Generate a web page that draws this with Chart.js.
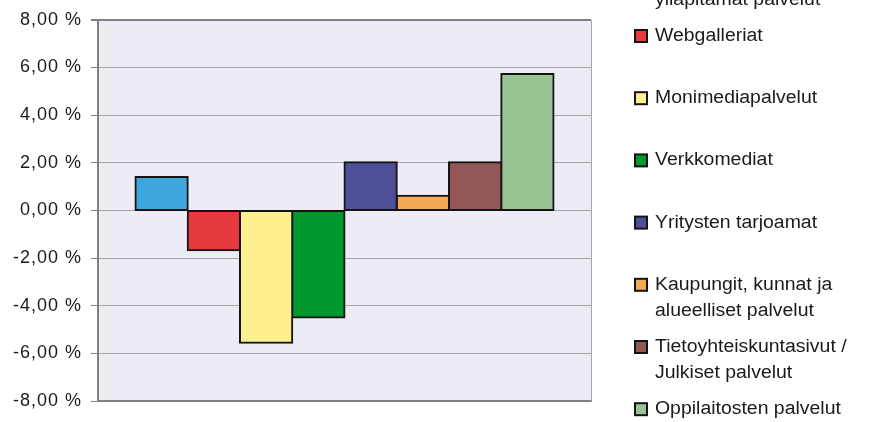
<!DOCTYPE html>
<html>
<head>
<meta charset="utf-8">
<script src="https://cdn.jsdelivr.net/npm/chart.js@4"></script>
<style>
  html, body { margin: 0; padding: 0; background: #fff; }
  #wrap { width: 887px; height: 422px; position: relative; }
</style>
</head>
<body>
<div id="wrap"><canvas id="chart"></canvas></div>
<script>
// data
var categories = [''];
var seriesNames = [
    'Yksityishenkilöiden\nylläpitämät palvelut',
    'Webgalleriat',
    'Monimediapalvelut',
    'Verkkomediat',
    'Yritysten tarjoamat',
    'Kaupungit, kunnat ja\nalueelliset palvelut',
    'Tietoyhteiskuntasivut /\nJulkiset palvelut',
    'Oppilaitosten palvelut'
];
var seriesValues = [1.40, -1.67, -5.55, -4.50, 2.02, 0.61, 2.02, 5.72];
var seriesColors = ['#3DA6DB', '#E5383F', '#FFF08F', '#00982F', '#4F4F99', '#F5A955', '#935757', '#99C293'];
var yTicks = [-8, -6, -4, -2, 0, 2, 4, 6, 8];

function fmt(v) {
    return v.toFixed(2).replace('.', ',') + ' %';
}

var datasets = seriesNames.map(function (name, i) {
    return {
        label: name.replace('\n', ' '),
        data: [seriesValues[i]],
        backgroundColor: seriesColors[i],
        borderColor: '#141414',
        borderWidth: 2,
        borderSkipped: false,
        inflateAmount: 1
    };
});

// plot background + right frame
var plotBg = {
    id: 'plotBg',
    beforeDraw: function (chart) {
        var a = chart.chartArea, c = chart.ctx;
        c.letterSpacing = '1px';
        c.save();
        c.fillStyle = '#EDECF5';
        c.fillRect(a.left, a.top, a.right - a.left, a.bottom - a.top);
        c.restore();
    },
    afterDatasetsDraw: function (chart) {
        var a = chart.chartArea, c = chart.ctx;
        c.save();
        c.strokeStyle = '#A6A6A6';
        c.lineWidth = 1;
        c.beginPath();
        c.moveTo(a.right + 0.5, a.top);
        c.lineTo(a.right + 0.5, a.bottom);
        c.stroke();
        c.restore();
    }
};

// legend on the right, excel style
var sideLegend = {
    id: 'sideLegend',
    afterDraw: function (chart) {
        var c = chart.ctx;
        c.save();
        c.letterSpacing = '0px';
        c.font = '18px "Liberation Sans", Arial, sans-serif';
        c.textBaseline = 'middle';
        var y0 = 36 - 62.2, step = 62.2, lh = 26;
        chart.data.datasets.forEach(function (ds, i) {
            var y = y0 + i * step;
            c.fillStyle = ds.backgroundColor;
            c.fillRect(635, y - 6, 12, 12);
            c.strokeStyle = '#141414';
            c.lineWidth = 2;
            c.strokeRect(635, y - 6, 12, 12);
            c.fillStyle = '#1a1a1a';
            seriesNames[i].split('\n').forEach(function (line, j) {
                c.save();
                c.translate(655, y + j * lh);
                c.scale(1.08, 1);
                c.fillText(line, 0, 0);
                c.restore();
            });
        });
        c.restore();
    }
};

var ctx = document.getElementById('chart');
var chart = new Chart(ctx, {
    type: 'bar',
    data: {
        labels: categories,
        datasets: datasets
    },
    options: {
        responsive: true,
        maintainAspectRatio: false,
        animation: false,
        datasets: {
            bar: { categoryPercentage: 0.848, barPercentage: 1.0 }
        },
        layout: { padding: { top: 18, right: 296, bottom: 0, left: 0 } },
        plugins: {
            legend: { display: false },
            tooltip: { enabled: false }
        },
        scales: {
            x: {
                ticks: { display: false },
                grid: { display: false, drawTicks: false },
                border: { display: true, color: '#808080', width: 2 },
                afterFit: function (s) { s.height = 21; }
            },
            y: {
                min: -8,
                max: 8,
                afterBuildTicks: function (s) {
                    s.ticks = yTicks.map(function (v) { return { value: v }; });
                },
                ticks: {
                    callback: function (v) { return fmt(v); },
                    color: '#1a1a1a',
                    font: { family: '"Liberation Sans", Arial, sans-serif', size: 18 },
                    padding: 9
                },
                grid: {
                    color: function (c) { return c.tick && c.tick.value === 8 ? '#808080' : '#A6A6A6'; },
                    lineWidth: function (c) { return c.tick && c.tick.value === 8 ? 2 : 1; },
                    tickColor: '#808080',
                    tickLength: 7
                },
                border: { color: '#808080', width: 2 },
                afterFit: function (s) { s.width = 98; }
            }
        }
    },
    plugins: [plotBg, sideLegend]
});
</script>
</body>
</html>
